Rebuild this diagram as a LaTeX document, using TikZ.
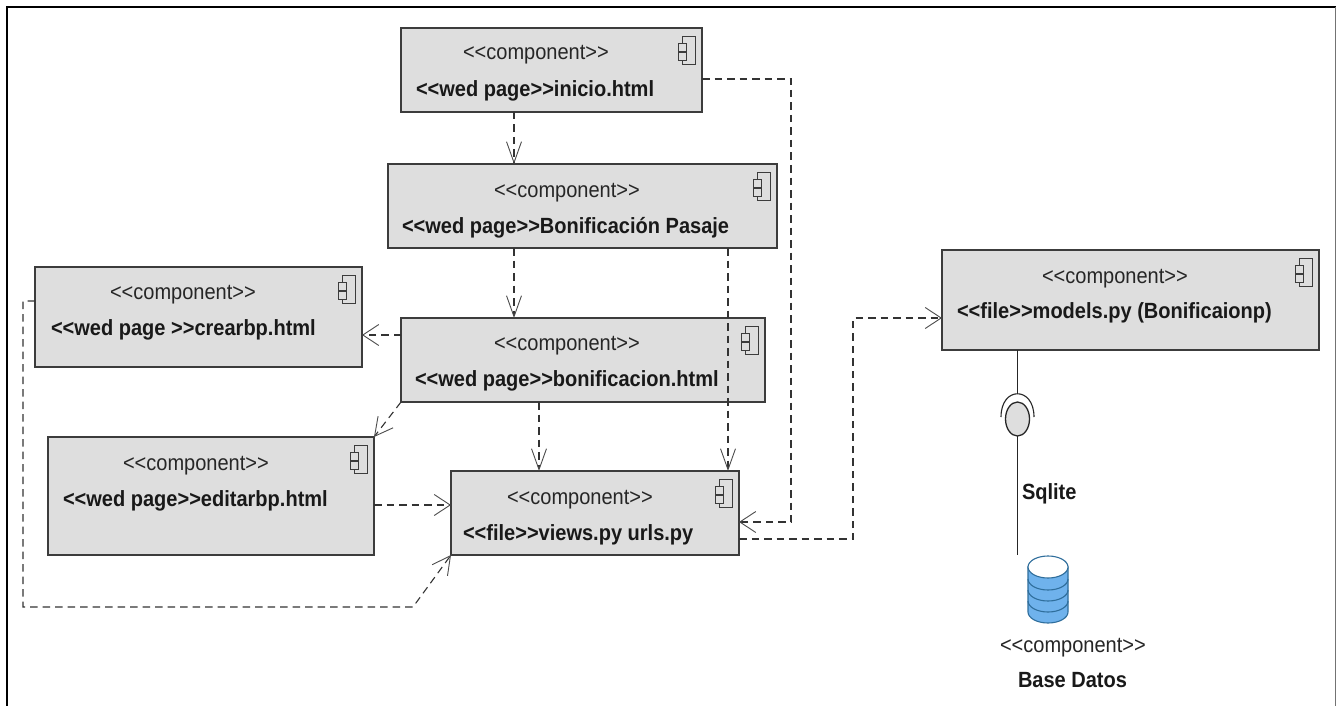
\documentclass[tikz,border=0pt]{standalone}
\usepackage{fontspec}
\setmainfont[FakeStretch=0.91]{Liberation Sans}
\usetikzlibrary{arrows.meta,shapes.geometric,calc}
\definecolor{boxfill}{HTML}{DEDEDE}
\definecolor{boxline}{HTML}{3C3C3C}
\definecolor{dbblue}{HTML}{6FB2EC}
\definecolor{dbline}{HTML}{2F6E9C}
\tikzset{
  compbox/.style={draw=boxline,fill=boxfill,line width=1.3pt,rectangle,anchor=north west,inner sep=0pt,outer sep=0pt},
  stereo/.style={anchor=base west,inner sep=0pt,outer sep=0pt,text=black!85,font=\fontsize{22}{26}\selectfont},
  bold/.style={anchor=base west,inner sep=0pt,outer sep=0pt,text=black!90,font=\fontsize{22}{26}\selectfont\bfseries},
  dep/.style={draw=black!80,line width=1.1pt,dash pattern=on 7.5pt off 5pt},
  depv/.style={dep,-{Straight Barb[length=21pt,width=15pt,line width=0.9pt,black!70]}},
  deph/.style={dep,-{Straight Barb[length=16pt,width=21pt,line width=0.9pt,black!70]}},
  depd/.style={dep,-{Straight Barb[length=18pt,width=19pt,line width=0.9pt,black!70]}},
  iconline/.style={draw=boxline,line width=0.9pt,fill=boxfill},
  wire/.style={draw=black!85,line width=1.1pt},
}
\newcommand{\compicon}[1]{%
  \begin{scope}[shift={(#1.north east)}]
    \draw[iconline] (-20,8) rectangle (-7,36);
    \draw[iconline] (-24,15) rectangle (-16,23);
    \draw[iconline] (-24,24) rectangle (-16,32);
  \end{scope}}
\begin{document}
\begin{tikzpicture}[x=1pt,y=-1pt]
\useasboundingbox (0,0) rectangle (1336,706);
\fill[white] (0,0) rectangle (1336,706);
% outer frame
\draw[black,line width=1.6pt] (7,706) -- (7,7) -- (1336,7);
\draw[black!55,line width=1pt] (1335.5,7) -- (1335.5,706);

% boxes
\node[compbox,minimum width=301pt,minimum height=84pt] (inicio) at (401,28) {};
\node[compbox,minimum width=389pt,minimum height=84pt] (bonif) at (388,164) {};
\node[compbox,minimum width=327pt,minimum height=100pt] (crear) at (35,267) {};
\node[compbox,minimum width=364pt,minimum height=84pt] (bonifhtml) at (401,318) {};
\node[compbox,minimum width=326pt,minimum height=118pt] (editar) at (48,437) {};
\node[compbox,minimum width=288pt,minimum height=84pt] (views) at (451,471) {};
\node[compbox,minimum width=377pt,minimum height=100pt] (models) at (942,250) {};

\compicon{inicio}
\compicon{bonif}
\compicon{crear}
\compicon{bonifhtml}
\compicon{editar}
\compicon{views}
\compicon{models}

% labels
\node[stereo] (t1a) at (463,60) {<{}<component>{}>};
\node[bold] (t1b) at (416,97) {<{}<wed page>{}>inicio.html};
\node[stereo] (t2a) at (494,197) {<{}<component>{}>};
\node[bold] (t2b) at (402,233) {<{}<wed page>{}>Bonificación Pasaje};
\node[stereo] (t3a) at (110,299) {<{}<component>{}>};
\node[bold] (t3b) at (51,335) {<{}<wed page >{}>crearbp.html};
\node[stereo] (t4a) at (494,350) {<{}<component>{}>};
\node[bold] (t4b) at (415,386) {<{}<wed page>{}>bonificacion.html};
\node[stereo] (t5a) at (123,470) {<{}<component>{}>};
\node[bold] (t5b) at (63,506) {<{}<wed page>{}>editarbp.html};
\node[stereo] (t6a) at (507,504) {<{}<component>{}>};
\node[bold] (t6b) at (463,540) {<{}<file>{}>views.py urls.py};
\node[stereo] (t7a) at (1042,283) {<{}<component>{}>};
\node[bold] (t7b) at (957,318) {<{}<file>{}>models.py (Bonificaionp)};
\node[bold] (sqlite) at (1022,499) {Sqlite};
\node[stereo] (t8a) at (1000,652) {<{}<component>{}>};
\node[bold] (t8b) at (1018,687) {Base Datos};

% dependencies
\draw[depv] ([xshift=113pt]inicio.south west) -- ([xshift=126pt]bonif.north west);
\draw[depv] ([xshift=126pt]bonif.south west) -- ([xshift=113pt]bonifhtml.north west);
\draw[depv] ([xshift=340pt]bonif.south west) -- ([xshift=277pt]views.north west);
\coordinate (c1) at (791,79);
\draw[deph] (c1 -| inicio.east) -- (c1) -- (791,522) -- ([yshift=-51pt]views.north east);
\draw[deph] ([yshift=-17pt]bonifhtml.north west) -- ([yshift=-68pt]crear.north east);
\draw[depd] (bonifhtml.south west) -- (editar.north east);
\draw[depv] ([xshift=138pt]bonifhtml.south west) -- ([xshift=88pt]views.north west);
\draw[deph] ([yshift=-68pt]editar.north east) -- ([yshift=-34pt]views.north west);
\coordinate (c2) at (23,301);
\coordinate (c3) at (23,607);
\coordinate (c4) at (413,607);
\draw[depd] (c2 -| crear.west) -- (c2) -- (c3) -- (c4) -- (views.south west);
\coordinate (c5) at (853,539);
\coordinate (c6) at (853,318);
\draw[deph] (c5 -| views.east) -- (c5) -- (c6) -- ([yshift=-68pt]models.north west);

% interface
\node[ellipse,draw=black!85,fill=boxfill,line width=1.3pt,minimum width=24pt,minimum height=34pt,inner sep=0pt,outer sep=0pt] (iface) at (1017.5,419) {};
\coordinate (socket) at (1017.5,394);
\draw[wire] (1017.5,350) -- (socket);
\draw[black!85,line width=1.1pt] (1001,417) .. controls (1001,386) and (1034,386) .. (1034,417);
\coordinate (dbtop) at (1017.5,555);
\draw[wire] (iface.south) -- (dbtop);

% database
\begin{scope}[draw=dbline,line width=1.1pt]
  \draw[fill=dbblue] (1028,567) -- (1028,612) arc[start angle=180,end angle=0,x radius=20pt,y radius=-11pt] -- (1068,567) -- cycle;
  \draw (1028,579) arc[start angle=180,end angle=0,x radius=20pt,y radius=-11pt];
  \draw (1028,590) arc[start angle=180,end angle=0,x radius=20pt,y radius=-11pt];
  \draw (1028,601) arc[start angle=180,end angle=0,x radius=20pt,y radius=-11pt];
  \draw[fill=white] (1048,567) ellipse[x radius=20pt,y radius=11pt];
\end{scope}
\end{tikzpicture}
\end{document}
